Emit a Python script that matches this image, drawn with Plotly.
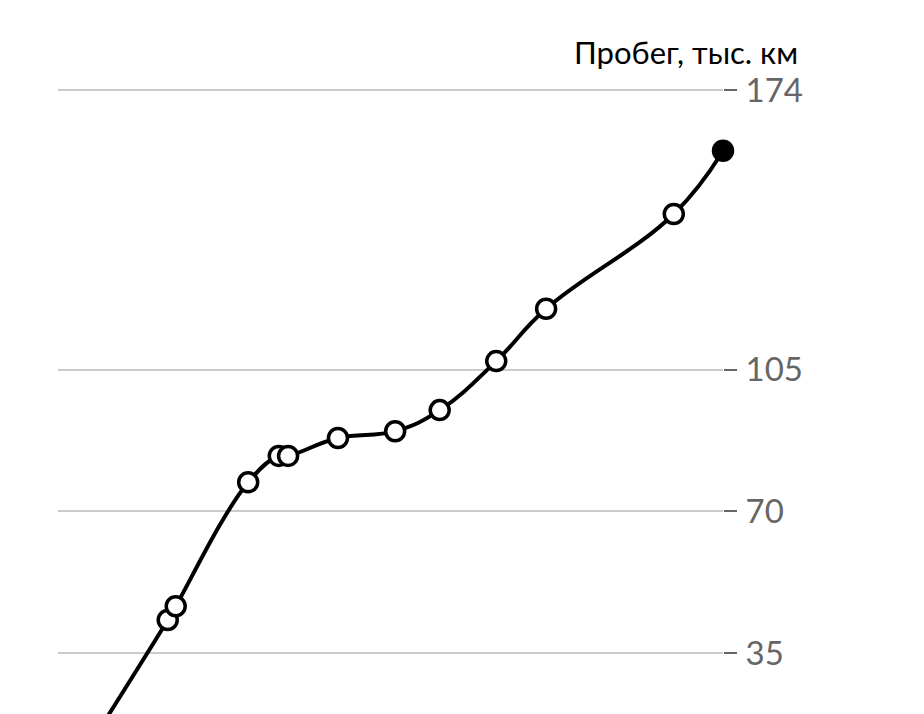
import plotly.graph_objects as go

# x: relative time position (0..100), y: mileage, thousand km
x_vals = [0, 16.5, 17.7, 28.6, 33.2, 34.6, 42.1, 50.7, 57.4, 65.9, 73.4, 92.6, 100]
mileage = [0, 43.2, 46.6, 77.2, 83.7, 83.7, 88.1, 89.8, 95.0, 107.1, 120.0, 143.4, 159.0]
tick_vals = [35, 70, 105, 174]
tick_text = ["35", "70", "105", "174"]
title_text = "Пробег, тыс. км"

fill_colors = ["white"] * (len(mileage) - 1) + ["black"]

# page body has an 8px default margin; compensate in the figure margins
fig = go.Figure()
fig.add_trace(go.Scatter(
    x=x_vals, y=mileage,
    mode="lines+markers",
    line=dict(color="black", width=4, shape="spline", smoothing=1.2),
    marker=dict(size=19, color=fill_colors, line=dict(color="black", width=3.5)),
    cliponaxis=False,
    hoverinfo="skip",
))

fig.update_layout(
    width=924, height=706,
    margin=dict(l=50, r=209, t=80, b=0),
    paper_bgcolor="white", plot_bgcolor="white",
    showlegend=False,
    font=dict(family="Lato", color="#666666"),
    xaxis=dict(range=[0, 100], visible=False, fixedrange=True),
    yaxis=dict(
        range=[20, 174.5], side="right",
        tickvals=tick_vals, ticktext=tick_text,
        showgrid=True, gridcolor="#cccccc", gridwidth=2,
        zeroline=False, showline=False,
        ticks="outside", ticklen=13, tickwidth=2, tickcolor="#666666",
        tickfont=dict(size=33, color="#666666", family="Lato"),
        ticklabelstandoff=2,
        fixedrange=True,
    ),
    annotations=[dict(
        text=title_text, xref="paper", yref="paper",
        x=(800 - 58) / 665, y=1, xanchor="right", yanchor="bottom",
        yshift=15, showarrow=False,
        font=dict(size=31, color="black", family="Lato"),
    )],
)

fig.write_html("out.html")
